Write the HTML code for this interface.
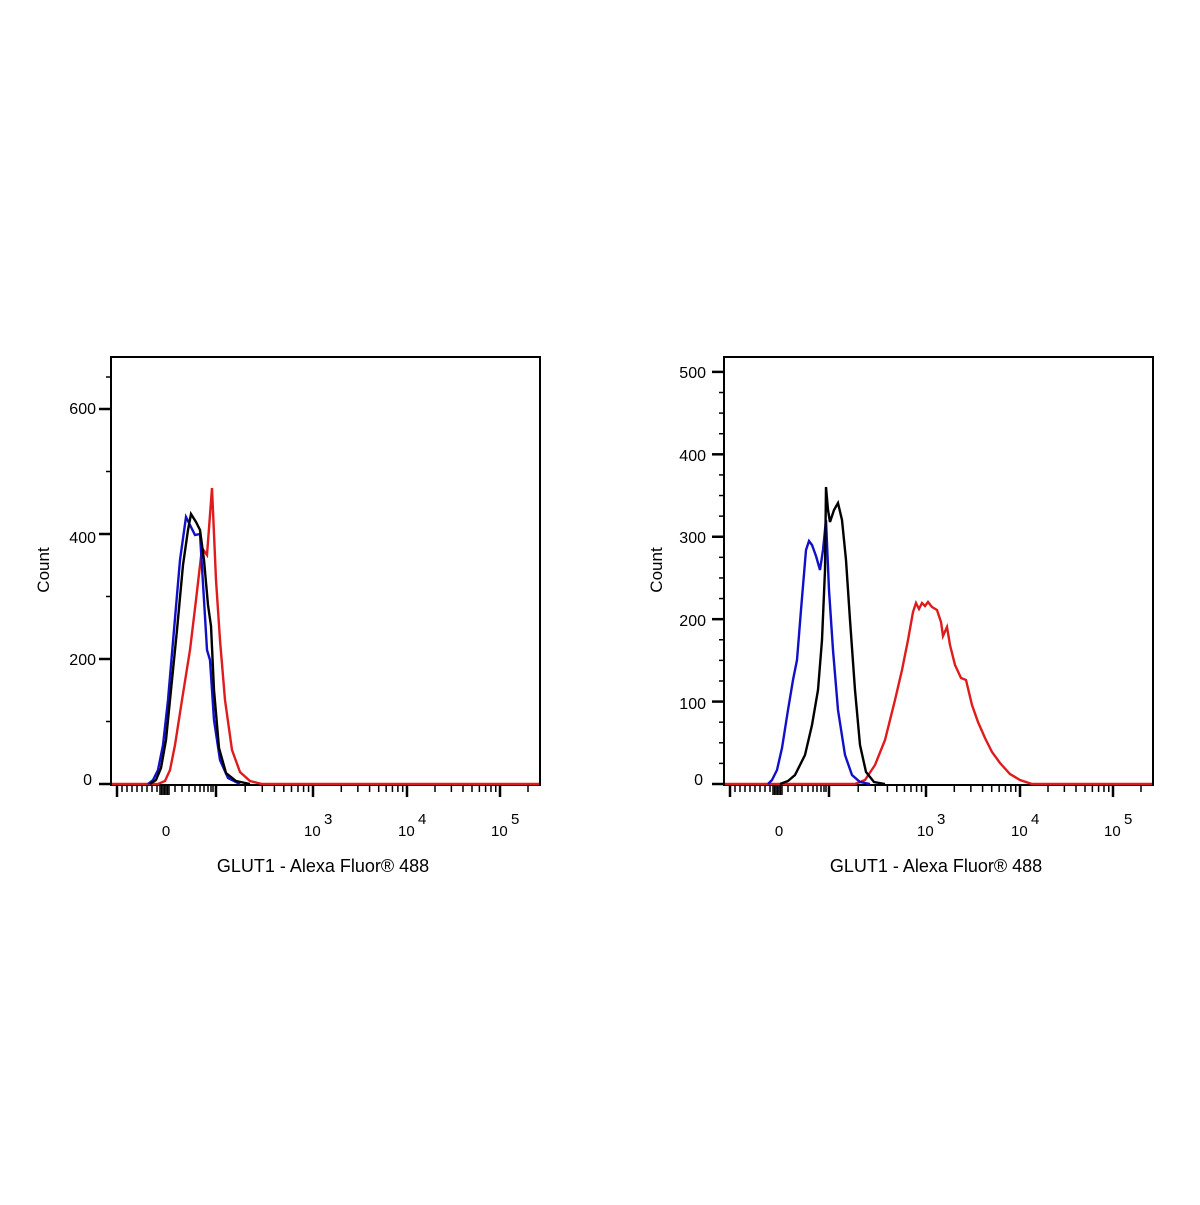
<!DOCTYPE html>
<html><head><meta charset="utf-8"><style>
html,body{margin:0;padding:0;background:#fff;}
svg text{font-family:"Liberation Sans",Arial,sans-serif;fill:#000;}
</style></head><body>
<svg id="s" width="1200" height="1200" viewBox="0 0 1200 1200" xmlns="http://www.w3.org/2000/svg">
<rect width="1200" height="1200" fill="#fff"/>
<g id="L">
<rect x="111" y="357" width="429" height="428" fill="none" stroke="#000" stroke-width="2"/>
<text x="96" y="414" font-size="16" text-anchor="end">600</text>
<text x="96" y="543" font-size="16" text-anchor="end">400</text>
<text x="96" y="665" font-size="16" text-anchor="end">200</text>
<text x="92" y="785" font-size="16" text-anchor="end">0</text>
<text transform="translate(49,570) rotate(-90)" font-size="17" text-anchor="middle">Count</text>
<text x="323" y="872" font-size="18" text-anchor="middle">GLUT1 - Alexa Fluor® 488</text>
<text x="166" y="836" font-size="15" text-anchor="middle">0</text>
<text x="304" y="836" font-size="15">10</text><text x="324" y="824" font-size="15">3</text>
<text x="398" y="836" font-size="15">10</text><text x="418" y="824" font-size="15">4</text>
<text x="491" y="836" font-size="15">10</text><text x="511" y="824" font-size="15">5</text>
<polyline fill="none" stroke="#e01b1b" stroke-width="2.4" points="112,784 158,784 165,781 170,770 175,745 182,700 190,650 196,600 202,548 207,555 212,488 216,580 220,640 225,700 232,750 240,772 250,781 262,784 539,784"/>
<polyline fill="none" stroke="#1010c8" stroke-width="2.4" points="148,784 153,780 158,770 163,745 168,700 174,630 180,560 186,517 190,525 195,535 200,534 204,600 207,650 210,660 214,720 220,760 228,778 240,784"/>
<polyline fill="none" stroke="#000" stroke-width="2.4" points="150,784 156,780 161,768 166,740 171,690 177,630 183,565 188,530 191,514 196,522 200,530 204,560 208,605 211,626 214,690 219,748 226,773 236,781 250,784"/>
</g>
<g id="R">
<rect x="724" y="357" width="429" height="428" fill="none" stroke="#000" stroke-width="2"/>
<text x="706" y="378" font-size="16" text-anchor="end">500</text>
<text x="706" y="461" font-size="16" text-anchor="end">400</text>
<text x="706" y="543" font-size="16" text-anchor="end">300</text>
<text x="706" y="626" font-size="16" text-anchor="end">200</text>
<text x="706" y="709" font-size="16" text-anchor="end">100</text>
<text x="703" y="785" font-size="16" text-anchor="end">0</text>
<text transform="translate(662,570) rotate(-90)" font-size="17" text-anchor="middle">Count</text>
<text x="936" y="872" font-size="18" text-anchor="middle">GLUT1 - Alexa Fluor® 488</text>
<text x="779" y="836" font-size="15" text-anchor="middle">0</text>
<text x="917" y="836" font-size="15">10</text><text x="937" y="824" font-size="15">3</text>
<text x="1011" y="836" font-size="15">10</text><text x="1031" y="824" font-size="15">4</text>
<text x="1104" y="836" font-size="15">10</text><text x="1124" y="824" font-size="15">5</text>
<polyline fill="none" stroke="#e01b1b" stroke-width="2.4" points="725,784 855,784 865,780 875,765 885,740 895,700 902,670 908,640 913,612 916,603 919,609 922,603 925,606 928,602 932,607 937,610 941,622 943,636 947,627 950,645 955,665 961,678 966,680 972,705 978,722 985,738 992,752 1000,763 1010,774 1020,780 1032,784 1152,784"/>
<polyline fill="none" stroke="#1010c8" stroke-width="2.4" points="768,784 772,780 777,770 782,748 788,710 793,680 797,660 801,610 806,550 809,541 812,545 816,556 820,570 823,550 826,520 829,590 833,650 838,710 845,755 852,775 860,782 870,784"/>
<polyline fill="none" stroke="#000" stroke-width="2.4" points="780,784 788,781 795,775 805,755 812,725 818,690 822,640 825,570 826,487 828,510 830,522 834,510 838,503 842,520 846,560 850,620 855,690 860,745 866,772 874,782 885,784"/>
</g>
</svg>
<script>
var s=document.getElementById('s');var NS='http://www.w3.org/2000/svg';
function ln(x1,y1,x2,y2,w){var l=document.createElementNS(NS,'line');l.setAttribute('x1',x1);l.setAttribute('y1',y1);l.setAttribute('x2',x2);l.setAttribute('y2',y2);l.setAttribute('stroke','#000');l.setAttribute('stroke-width',w||1.5);s.appendChild(l);}
[0,613].forEach(function(o){
 var by=785;
 [117,216,313,407,500].forEach(function(x){ln(x+o,by,x+o,by+12,2.5);});
 for(var x=122;x<=157;x+=5)ln(x+o,by,x+o,by+7,1.5);
 for(var x=160;x<=170;x+=1.5)ln(x+o,by,x+o,by+10,1.5);
 [175,182,189,195,200,204,208,211,213].forEach(function(x){ln(x+o,by,x+o,by+7,1.5);});
 var dec=[[216,97],[313,94],[407,93],[500,93]];
 dec.forEach(function(d){for(var k=2;k<=9;k++){var x=d[0]+d[1]*Math.log10(k);if(x<540)ln(x+o,by,x+o,by+7,1.5);}});
});
function yt(bx,y0,ppc,step,max,majStep){for(var v=0;v<=max;v+=step){var y=y0-v*ppc;var maj=(v%majStep===0);ln(bx-(maj?12:5),y,bx,y,maj?2.5:1.5);}}
yt(111,784,0.625,100,600,200);
ln(106,377,111,377,1.5);
yt(724,784,0.8242,25,500,100);
</script>
</body></html>
